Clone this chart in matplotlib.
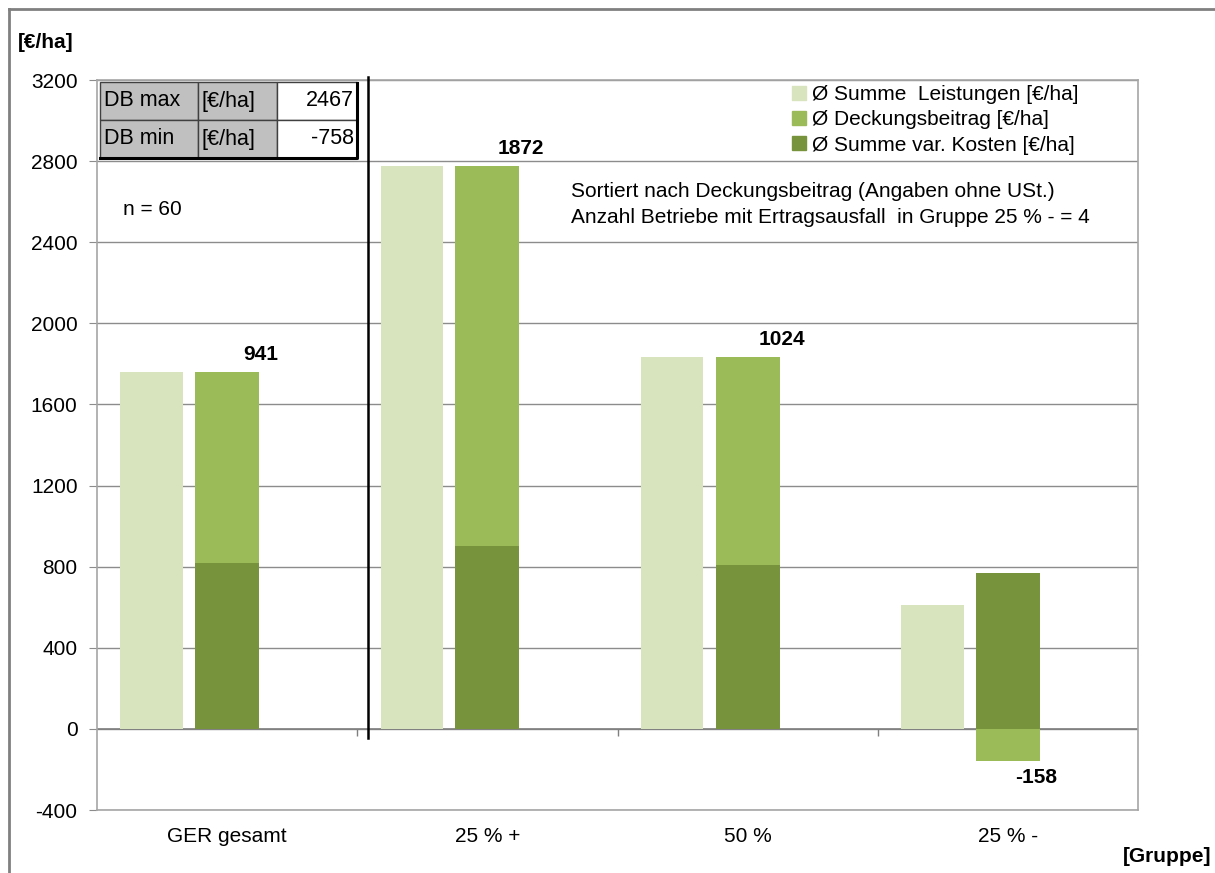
import matplotlib
matplotlib.use("Agg")
import matplotlib.pyplot as plt
import numpy as np
from matplotlib.lines import Line2D
from matplotlib.patches import Patch

plt.rcParams["font.family"] = ["Liberation Sans", "DejaVu Sans"]

# Gruppen und Mittelwerte je ha
groups = ["GER gesamt", "25 % +", "50 %", "25 % -"]
leistungen = [1759, 2774, 1833, 611]
var_kosten = [818, 902, 809, 769]
deckungsbeitrag = [941, 1872, 1024, -158]

table_rows = ["DB max", "DB min"]
table_unit = "[€/ha]"
table_values = [2467, -758]

y_ticks = [-400, 0, 400, 800, 1200, 1600, 2000, 2400, 2800, 3200]

C_LEIST = "#d7e4bd"
C_DB = "#9bbb59"
C_KOST = "#77933c"
GRID = "#8c8c8c"
FS = 15

W, H = 1215, 873
fig = plt.figure(figsize=(W / 100, H / 100), dpi=100)
ax = fig.add_axes([97 / W, 1 - 810 / H, 1041 / W, 730 / H])

x = np.arange(len(groups))
ax.bar(x - 0.29, leistungen, width=0.24, color=C_LEIST, zorder=3)
ax.bar(x, var_kosten, width=0.245, color=C_KOST, zorder=3)
db = np.array(deckungsbeitrag)
# positive DB stapelt auf die Kosten, negative haengt unter der Nulllinie
db_bottom = np.where(db >= 0, var_kosten, 0)
ax.bar(x, db, width=0.245, bottom=db_bottom, color=C_DB, zorder=3)

for i, v in enumerate(deckungsbeitrag):
    top = db_bottom[i] + v
    if v >= 0:
        ax.annotate(f"{v}", (x[i] + 0.13, top), xytext=(0, 6),
                    textcoords="offset points", ha="center", va="bottom",
                    fontsize=FS, fontweight="bold", zorder=5)
    else:
        ax.annotate(f"{v}", (x[i] + 0.11, top), xytext=(0, -5),
                    textcoords="offset points", ha="center", va="top",
                    fontsize=FS, fontweight="bold", zorder=5)

ax.set_xlim(-0.5, len(groups) - 0.5)
ax.set_ylim(-400, 3200)
ax.set_yticks(y_ticks)
ax.set_yticklabels([str(t) for t in y_ticks], fontsize=FS)
ax.grid(axis="y", color=GRID, linewidth=1.0, zorder=0)
ax.tick_params(axis="y", length=6, color=GRID, pad=8)
ax.set_xticks(x)
ax.set_xticklabels(groups, fontsize=FS)
ax.tick_params(axis="x", length=0, pad=12)
for s in ax.spines.values():
    s.set_color("#a6a6a6")
    s.set_linewidth(1.2)

# Kategorienachse bei 0 mit Trennstrichen
ax.axhline(0, color="#7f7f7f", linewidth=1.2, zorder=2)
ax.vlines(x[:-1] + 0.5, -35, 0, color="#7f7f7f", linewidth=1.0, zorder=2)

# Trennlinie zwischen Gesamt und Gruppen
ax.plot([0.54, 0.54], [-45, 3215], color="black", linewidth=1.8,
        clip_on=False, zorder=6)

# Tabelle DB max / DB min
tbl = ax.table(cellText=[[r, table_unit, str(v)] for r, v in zip(table_rows, table_values)],
               cellLoc="left", colWidths=[98, 79, 80],
               bbox=[3 / 1041, 1 - 76 / 730 - 2 / 730, 257 / 1041, 76 / 730])
tbl.auto_set_font_size(False)
for (r, c), cell in tbl.get_celld().items():
    cell.set_fontsize(15.5)
    cell.set_edgecolor("#404040")
    cell.set_linewidth(1.0)
    cell.set_facecolor("#c0c0c0" if c < 2 else "white")
    cell.PAD = 0.04
    if c == 2:
        cell.get_text().set_ha("right")
        cell._loc = "right"
tbl.set_zorder(7)
# Schatten unten und rechts
tx1 = -0.5 + 4 * 260 / 1041
ty0 = 3200 - 3600 * 78 / 730
ax.plot([-0.5 + 4 * 3 / 1041, tx1, tx1], [ty0, ty0, 3200 - 3600 * 3 / 730],
        color="black", linewidth=2.2, clip_on=False, zorder=8)

ax.text(-0.4, 2560, "n = 60", fontsize=FS, va="center")
ax.text(1.32, 2650, "Sortiert nach Deckungsbeitrag (Angaben ohne USt.)",
        fontsize=FS, va="center")
ax.text(1.32, 2520, "Anzahl Betriebe mit Ertragsausfall  in Gruppe 25 % - = 4",
        fontsize=FS, va="center")

handles = [Patch(color=C_LEIST, label="Ø Summe  Leistungen [€/ha]"),
           Patch(color=C_DB, label="Ø Deckungsbeitrag [€/ha]"),
           Patch(color=C_KOST, label="Ø Summe var. Kosten [€/ha]")]
leg = ax.legend(handles=handles, loc="upper right", bbox_to_anchor=(0.955, 1.01),
                frameon=False, fontsize=FS, handlelength=0.65, handleheight=0.65,
                handletextpad=0.3, labelspacing=0.3, borderaxespad=0.2)
leg.set_zorder(9)

fig.text(18 / W, 1 - 43 / H, "[€/ha]", fontsize=FS, fontweight="bold",
         va="center", ha="left")
fig.text(1211 / W, 1 - 857 / H, "[Gruppe]", fontsize=FS, fontweight="bold",
         va="center", ha="right")

# Rahmen des Diagrammbereichs
fig.add_artist(Line2D([9 / W, 9 / W], [0, 1 - 9 / H], color="#808080",
                      linewidth=2.0, transform=fig.transFigure))
fig.add_artist(Line2D([9 / W, 1], [1 - 9 / H, 1 - 9 / H], color="#808080",
                      linewidth=2.0, transform=fig.transFigure))

fig.savefig("out.png", dpi=100, facecolor="white")
